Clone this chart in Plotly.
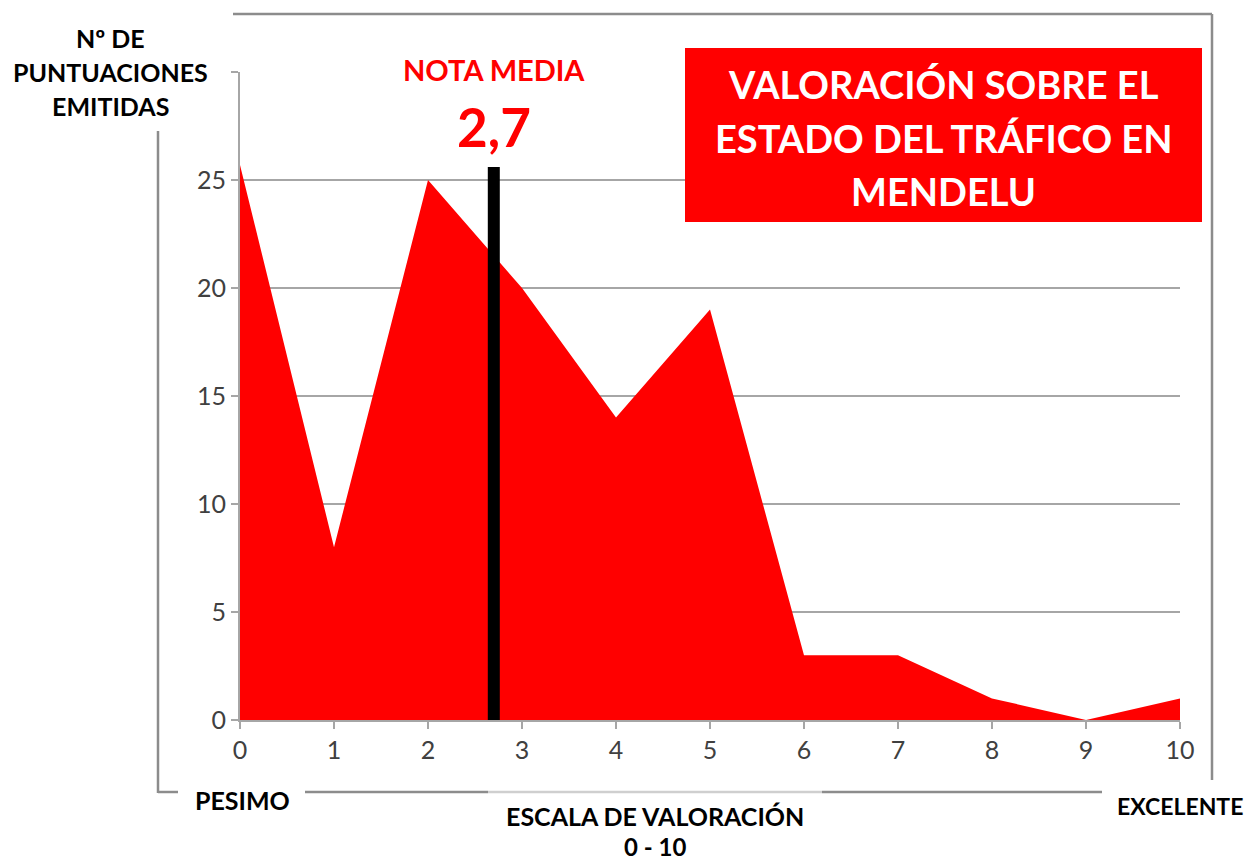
import plotly.graph_objects as go

# ---- data ----
scores = [0, 1, 2, 3, 4, 5, 6, 7, 8, 9, 10]
counts = [25.7, 8, 25, 20, 14, 19, 3, 3, 1, 0, 1]
mean_score = 2.7
mean_bar_top = 25.6
y_ticks = [0, 5, 10, 15, 20, 25, 30]
y_tick_text = ["0", "5", "10", "15", "20", "25", ""]

OFF = 8  # default page body margin
W, H = 1253 - OFF, 864 - OFF
# plot area in screen pixels
L, R, T, B = 240, 1180, 72, 720


def px(x):
    return (x - L) / (R - L)


def py(y):
    return (B - y) / (B - T)


FONT = "Lato"
RED = "#ff0000"
GRID = "#a6a6a6"

fig = go.Figure()
fig.add_trace(go.Scatter(
    x=scores, y=counts, mode="lines", fill="tozeroy",
    fillcolor=RED, line=dict(width=0, color=RED), hoverinfo="skip",
))
fig.add_trace(go.Scatter(
    x=[mean_score, mean_score], y=[0, mean_bar_top], mode="lines",
    line=dict(width=12, color="black"), hoverinfo="skip",
))

shapes = []
ann = []


def seg(x0, y0, x1, y1, color="#8c8c8c", width=2.5):
    shapes.append(dict(type="line", xref="paper", yref="paper",
                       x0=px(x0), y0=py(y0), x1=px(x1), y1=py(y1),
                       line=dict(color=color, width=width), layer="above"))


# frame lines
seg(233, 14, 1212, 14)
seg(1212, 14, 1212, 780)
seg(158, 131, 158, 793)
seg(158, 792, 178, 792)
seg(305, 792, 488, 792)
seg(488, 792, 822, 792, color="#cfcfcf")
seg(822, 792, 1102, 792)

# white patch behind NOTA MEDIA
shapes.append(dict(type="rect", xref="paper", yref="paper",
                   x0=px(389), x1=px(600), y0=py(86), y1=py(56),
                   fillcolor="white", line=dict(width=0), layer="above"))
# title box
shapes.append(dict(type="rect", xref="paper", yref="paper",
                   x0=px(685), x1=px(1202), y0=py(222), y1=py(48),
                   fillcolor=RED, line=dict(width=0), layer="above"))


def text(x, y, s, size, color="black", bold=True):
    ann.append(dict(xref="paper", yref="paper", x=px(x), y=py(y),
                    text=f"<b>{s}</b>" if bold else s, showarrow=False,
                    xanchor="center", yanchor="middle",
                    font=dict(family=FONT, size=size, color=color)))


text(110, 38, "Nº DE", 25)
text(110, 72, "PUNTUACIONES", 25)
text(110, 106, "EMITIDAS", 25)
text(494, 70, "NOTA MEDIA", 29, RED)
text(494, 126, "2,7", 53, RED)
text(943, 84, "VALORACIÓN SOBRE EL", 38, "white")
text(943, 138, "ESTADO DEL TRÁFICO EN", 38, "white")
text(943, 191, "MENDELU", 38, "white")
text(242, 800, "PESIMO", 25)
text(1180, 806, "EXCELENTE", 23)
text(655, 816, "ESCALA DE VALORACIÓN", 25)
text(655, 846, "0 - 10", 24)

fig.update_layout(
    width=W, height=H,
    margin=dict(l=L - OFF, r=W - (R - OFF), t=T - OFF, b=H - (B - OFF)),
    paper_bgcolor="white", plot_bgcolor="white",
    showlegend=False,
    shapes=shapes, annotations=ann,
    xaxis=dict(range=[0, 10], tickvals=scores, ticktext=[str(s) for s in scores],
               showgrid=False, zeroline=False, showline=True, linecolor=GRID, linewidth=2,
               ticks="outside", ticklen=7, tickwidth=2, tickcolor=GRID,
               tickfont=dict(family=FONT, size=25, color="#404040")),
    yaxis=dict(range=[0, 30], tickvals=y_ticks, ticktext=y_tick_text,
               showgrid=True, gridcolor=GRID, gridwidth=2, zeroline=False,
               showline=True, linecolor=GRID, linewidth=2,
               ticks="outside", ticklen=7, tickwidth=2, tickcolor=GRID,
               tickfont=dict(family=FONT, size=25, color="#404040")),
)

fig.write_html("out.html")
